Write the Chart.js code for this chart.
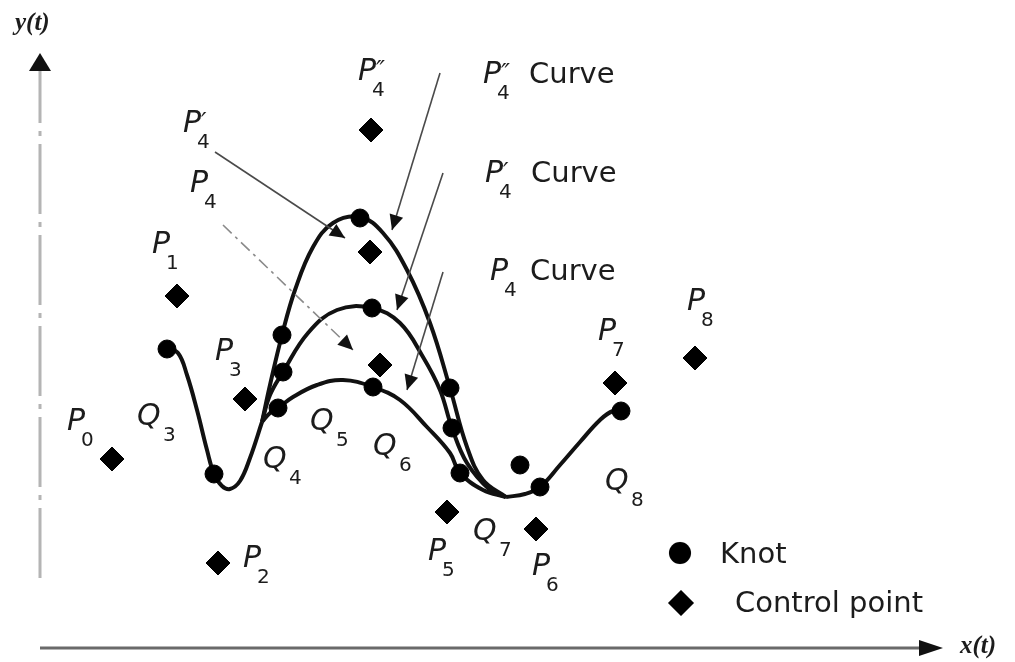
<!DOCTYPE html>
<html lang="en">
  <head>
    <meta charset="UTF-8" />
    <title>B-spline knots and control points</title>
    <script src="https://cdn.jsdelivr.net/npm/chart.js"></script>
    <style>
      body { margin: 0; background: #fff; }
    </style>
  </head>
  <body>
    <canvas id="splineChart" width="1015" height="662"></canvas>

    <script>
      // x(t), y(t) values (origin at the axis corner)
      const controlPoints = [
        { x: 72, y: 189 },   // P0
        { x: 137, y: 352 },  // P1
        { x: 178, y: 85 },   // P2
        { x: 205, y: 249 },  // P3
        { x: 340, y: 283 },  // P4
        { x: 330, y: 396 },  // P'4
        { x: 331, y: 518 },  // P''4
        { x: 407, y: 136 },  // P5
        { x: 496, y: 119 },  // P6
        { x: 575, y: 265 },  // P7
        { x: 655, y: 290 },  // P8
      ];

      const knots = [
        { x: 127, y: 299 }, { x: 174, y: 174 },
        { x: 242, y: 313 }, { x: 243, y: 276 }, { x: 238, y: 240 },
        { x: 320, y: 430 }, { x: 332, y: 340 }, { x: 333, y: 261 },
        { x: 410, y: 260 }, { x: 412, y: 220 }, { x: 420, y: 175 },
        { x: 480, y: 183 }, { x: 500, y: 161 }, { x: 581, y: 237 },
      ];

      // shared start / end of the spline
      const leftArc = [
        { x: 127, y: 299 }, { x: 138, y: 295 }, { x: 147, y: 273 }, { x: 157, y: 238 },
        { x: 167, y: 198 }, { x: 174, y: 174 }, { x: 182, y: 162 }, { x: 190, y: 159 },
        { x: 200, y: 167 }, { x: 210, y: 190 }, { x: 222, y: 226 },
      ];
      const rightArc = [
        { x: 466, y: 151 }, { x: 485, y: 154 }, { x: 500, y: 161 }, { x: 520, y: 183 },
        { x: 540, y: 206 }, { x: 560, y: 228 }, { x: 573, y: 237 }, { x: 583, y: 236 },
      ];

      // the middle segment for each position of P4
      const p4Curve = [
        { x: 222, y: 226 }, { x: 230, y: 235 }, { x: 238, y: 240 }, { x: 253, y: 251 },
        { x: 277, y: 263 }, { x: 303, y: 268 }, { x: 333, y: 261 }, { x: 360, y: 248 },
        { x: 387, y: 221 }, { x: 410, y: 195 }, { x: 420, y: 175 }, { x: 443, y: 158 },
        { x: 466, y: 151 },
      ];
      const p4PrimeCurve = [
        { x: 222, y: 226 }, { x: 230, y: 253 }, { x: 243, y: 276 }, { x: 268, y: 315 },
        { x: 297, y: 338 }, { x: 332, y: 340 }, { x: 360, y: 325 }, { x: 383, y: 291 },
        { x: 400, y: 258 }, { x: 412, y: 220 }, { x: 427, y: 185 }, { x: 450, y: 158 },
        { x: 466, y: 151 },
      ];
      const p4DoubleCurve = [
        { x: 222, y: 226 }, { x: 230, y: 263 }, { x: 242, y: 313 }, { x: 255, y: 358 },
        { x: 273, y: 401 }, { x: 293, y: 425 }, { x: 320, y: 431 }, { x: 343, y: 415 },
        { x: 367, y: 378 }, { x: 390, y: 325 }, { x: 410, y: 260 }, { x: 427, y: 201 },
        { x: 443, y: 168 }, { x: 466, y: 151 },
      ];

      // callout lines: [from, to]
      const pointers = [
        [{ x: 175, y: 496 }, { x: 305, y: 410 }], // P'4
        [{ x: 183, y: 423 }, { x: 313, y: 298 }], // P4 (dash-dot)
        [{ x: 400, y: 575 }, { x: 352, y: 418 }], // P''4 Curve
        [{ x: 403, y: 475 }, { x: 357, y: 338 }], // P'4 Curve
        [{ x: 403, y: 376 }, { x: 367, y: 258 }], // P4 Curve
      ];

      const labels = [
        { t: "P", p: "″", s: "4", x: 318, y: 568 },
        { t: "P", p: "″", s: "4", x: 443, y: 565, after: "Curve" },
        { t: "P", p: "′", s: "4", x: 445, y: 466, after: "Curve" },
        { t: "P", p: "", s: "4", x: 450, y: 368, after: "Curve" },
        { t: "P", p: "′", s: "4", x: 143, y: 516 },
        { t: "P", p: "", s: "4", x: 150, y: 456 },
        { t: "P", p: "", s: "1", x: 112, y: 395 },
        { t: "P", p: "", s: "3", x: 175, y: 288 },
        { t: "P", p: "", s: "0", x: 27, y: 218 },
        { t: "Q", p: "", s: "3", x: 97, y: 223 },
        { t: "Q", p: "", s: "4", x: 223, y: 180 },
        { t: "Q", p: "", s: "5", x: 270, y: 218 },
        { t: "Q", p: "", s: "6", x: 333, y: 193 },
        { t: "Q", p: "", s: "7", x: 433, y: 108 },
        { t: "Q", p: "", s: "8", x: 565, y: 158 },
        { t: "P", p: "", s: "2", x: 203, y: 81 },
        { t: "P", p: "", s: "5", x: 388, y: 88 },
        { t: "P", p: "", s: "6", x: 492, y: 73 },
        { t: "P", p: "", s: "7", x: 558, y: 308 },
        { t: "P", p: "", s: "8", x: 647, y: 338 },
      ];

      const legendItems = ["Knot", "Control point"];

      function arrowHead(ctx, x0, y0, x1, y1, len, half) {
        const a = Math.atan2(y1 - y0, x1 - x0);
        ctx.beginPath();
        ctx.moveTo(x1, y1);
        ctx.lineTo(x1 - len * Math.cos(a) + half * Math.sin(a), y1 - len * Math.sin(a) - half * Math.cos(a));
        ctx.lineTo(x1 - len * Math.cos(a) - half * Math.sin(a), y1 - len * Math.sin(a) + half * Math.cos(a));
        ctx.closePath();
        ctx.fill();
      }

      const diagramPlugin = {
        id: "diagram",
        beforeDatasetsDraw(chart) {
          const { ctx, scales } = chart;
          const xs = scales.x, ys = scales.y;
          const ox = xs.getPixelForValue(0), oy = ys.getPixelForValue(0);
          ctx.save();
          // y axis
          ctx.strokeStyle = "#b4b4b4";
          ctx.lineWidth = 3;
          ctx.setLineDash([70, 8, 5, 8]);
          ctx.beginPath();
          ctx.moveTo(ox, oy - 70);
          ctx.lineTo(ox, ys.getPixelForValue(580));
          ctx.stroke();
          ctx.setLineDash([]);
          ctx.fillStyle = "#111";
          arrowHead(ctx, ox, oy, ox, ys.getPixelForValue(595), 18, 11);
          // x axis
          ctx.strokeStyle = "#6a6a6a";
          ctx.beginPath();
          ctx.moveTo(ox, oy);
          ctx.lineTo(xs.getPixelForValue(890), oy);
          ctx.stroke();
          arrowHead(ctx, ox, oy, xs.getPixelForValue(903), oy, 24, 8);
          ctx.restore();
        },
        afterDatasetsDraw(chart) {
          const { ctx, scales } = chart;
          const xs = scales.x, ys = scales.y;
          ctx.save();
          ctx.fillStyle = "#111";
          pointers.forEach(([a, b]) => {
            arrowHead(ctx, xs.getPixelForValue(a.x), ys.getPixelForValue(a.y),
              xs.getPixelForValue(b.x), ys.getPixelForValue(b.y), 15, 7);
          });

          ctx.fillStyle = "#1c1c1c";
          ctx.textBaseline = "alphabetic";
          labels.forEach((l) => {
            const px = xs.getPixelForValue(l.x), py = ys.getPixelForValue(l.y);
            ctx.font = 'italic 30px "DejaVu Sans"';
            ctx.fillText(l.t, px, py);
            if (l.p) {
              ctx.font = 'italic 24px "DejaVu Sans"';
              ctx.fillText(l.p, px + 18, py - 2);
            }
            ctx.font = '20px "DejaVu Sans"';
            ctx.fillText(l.s, px + (l.t === "Q" ? 26 : 14), py + 16);
            if (l.after) {
              ctx.font = '29px "DejaVu Sans"';
              ctx.fillText(l.after, px + (l.p ? 46 : 40), py);
            }
          });

          ctx.font = '29px "DejaVu Sans"';
          ctx.fillText(legendItems[0], xs.getPixelForValue(680), ys.getPixelForValue(85));
          ctx.fillText(legendItems[1], xs.getPixelForValue(695), ys.getPixelForValue(36));

          ctx.font = 'bold italic 25px "Liberation Serif"';
          ctx.fillText("y(t)", 15, 30);
          ctx.fillText("x(t)", 960, 653);
          ctx.restore();
        },
      };

      const curveStyle = {
        showLine: true,
        pointRadius: 0,
        borderColor: "#111",
        borderWidth: 4,
        tension: 0.4,
        fill: false,
        order: 2,
      };

      const pointerSets = pointers.map((p, i) => ({
        data: p,
        showLine: true,
        pointRadius: 0,
        borderColor: i === 1 ? "#8a8a8a" : "#4a4a4a",
        borderWidth: 1.6,
        borderDash: i === 1 ? [12, 5, 3, 5] : [],
        order: 1,
      }));

      new Chart(document.getElementById("splineChart").getContext("2d"), {
        type: "scatter",
        data: {
          datasets: [
            { data: knots, pointStyle: "circle", pointRadius: 9, backgroundColor: "#000", borderColor: "#000", order: 0 },
            { data: controlPoints, pointStyle: "rectRot", pointRadius: 12, backgroundColor: "#000", borderColor: "#000", order: 0 },
            { data: [{ x: 640, y: 95 }], pointStyle: "circle", pointRadius: 11, backgroundColor: "#000", order: 0 },
            { data: [{ x: 641, y: 45 }], pointStyle: "rectRot", pointRadius: 13, backgroundColor: "#000", order: 0 },
            { ...curveStyle, data: leftArc },
            { ...curveStyle, data: p4Curve },
            { ...curveStyle, data: p4PrimeCurve },
            { ...curveStyle, data: p4DoubleCurve },
            { ...curveStyle, data: rightArc },
            ...pointerSets,
          ],
        },
        options: {
          responsive: false,
          animation: false,
          layout: { padding: 0, autoPadding: false },
          plugins: { legend: { display: false }, tooltip: { enabled: false } },
          scales: {
            x: { type: "linear", min: -40, max: 975, display: false },
            y: { type: "linear", min: -14, max: 648, display: false },
          },
        },
        plugins: [diagramPlugin],
      });
    </script>
  </body>
</html>
